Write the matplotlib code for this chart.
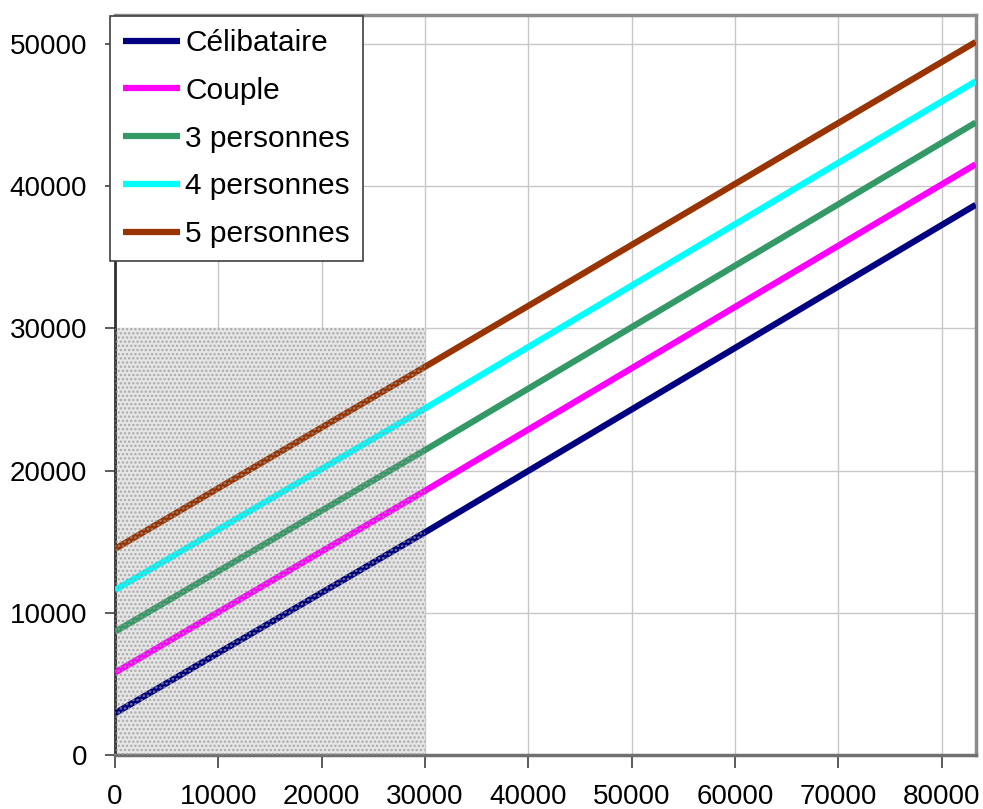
import matplotlib.pyplot as plt
from matplotlib.patches import Rectangle

plt.rcParams['font.family'] = ['Liberation Sans', 'DejaVu Sans']
plt.rcParams['hatch.linewidth'] = 1.2

# revenue points (x) and the value of each household line
x = [0, 30000, 83300]
labels = ['Célibataire', 'Couple', '3 personnes', '4 personnes', '5 personnes']
celibataire = [2950, 15660, 38670]
couple = [5800, 18580, 41520]
trois = [8680, 21440, 44450]
quatre = [11610, 24370, 47350]
cinq = [14500, 27290, 50110]
series = [celibataire, couple, trois, quatre, cinq]
colors = ['#000080', '#FF00FF', '#339966', '#00FFFF', '#993300']

# shaded zone
zone_x = [0, 30000]
zone_y = [0, 30000]

fig = plt.figure(figsize=(9.83, 8.09), dpi=100)
ax = fig.add_axes([0.117, 0.0664, 0.8756, 0.915])

# light grey background of the zone
ax.add_patch(Rectangle((zone_x[0], zone_y[0]), zone_x[1] - zone_x[0], zone_y[1] - zone_y[0],
                       facecolor='#e6e6e6', edgecolor='none', zorder=1))

for vals, lab, c in zip(series, labels, colors):
    ax.plot(x, vals, color=c, lw=4.5, label=lab, zorder=3, solid_capstyle='butt')

# dotted texture drawn over the lines
ax.add_patch(Rectangle((zone_x[0], zone_y[0]), zone_x[1] - zone_x[0], zone_y[1] - zone_y[0],
                       facecolor='none', edgecolor='#999999', hatch='....', lw=0,
                       alpha=0.75, zorder=4))

ax.set_xlim(0, 83300)
ax.set_ylim(0, 52000)
ax.set_xticks(range(0, 80001, 10000))
ax.set_yticks(range(0, 50001, 10000))
ax.grid(True, color='#c8c8c8', lw=1, zorder=0)
ax.set_axisbelow(True)

ax.tick_params(axis='x', direction='out', length=9, width=1.2, pad=12, labelsize=20, color='#404040')
ax.tick_params(axis='y', direction='out', length=7, width=1.2, pad=13, labelsize=20, color='#404040')

ax.spines['left'].set_color('#303030')
ax.spines['left'].set_linewidth(2)
ax.spines['bottom'].set_color('#707070')
ax.spines['bottom'].set_linewidth(2.5)
for s in ['top', 'right']:
    ax.spines[s].set_color('#8c8c8c')
    ax.spines[s].set_linewidth(2.5)

leg = ax.legend(loc='upper left', bbox_to_anchor=(-0.006, 0.999), fontsize=21.5,
                frameon=True, fancybox=False, framealpha=1, edgecolor='#404040',
                handlelength=1.9, handletextpad=0.17, labelspacing=0.66,
                borderpad=0.45, borderaxespad=0)
leg.get_frame().set_linewidth(1.2)
leg.set_zorder(10)

fig.savefig('out.png', dpi=100)
